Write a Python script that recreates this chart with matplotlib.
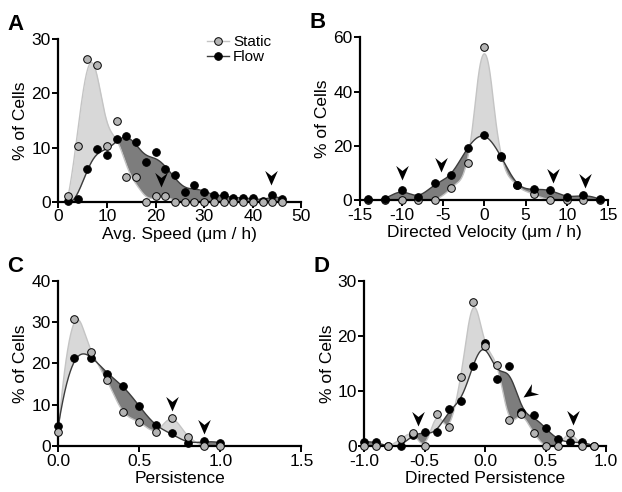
import numpy as np
import matplotlib.pyplot as plt
from matplotlib.path import Path
from matplotlib.markers import MarkerStyle
from matplotlib.transforms import Affine2D

plt.rcParams['font.family'] = ['Liberation Sans', 'DejaVu Sans']
plt.rcParams['axes.unicode_minus'] = False

# Panel A - average speed
speed_x = [2, 4, 6, 8, 10, 12, 14, 16, 18, 20, 22, 24, 26, 28, 30, 32, 34, 36, 38, 40, 42, 44, 46]
speed_static = [1.1, 10.3, 26.4, 25.2, 10.3, 14.9, 4.6, 4.6, 0, 1.1, 1.1, 0, 0, 0, 0, 0, 0, 0, 0, 0, 0, 0, 0]
speed_flow = [0.1, 0.5, 6.0, 9.8, 8.6, 11.5, 12.1, 11.0, 7.3, 9.1, 6.0, 4.9, 1.8, 3.0, 1.8, 1.2, 1.2,
              0.7, 0.7, 0.7, 0.1, 1.2, 0.5]
speed_arrows_x = [21.1, 43.8]
speed_arrows_y = [2.8, 3.1]

# Panel B - directed velocity
vel_x = [-14, -12, -10, -8, -6, -4, -2, 0, 2, 4, 6, 8, 10, 12, 14]
vel_static = [0, 0, 0, 0, 0, 4.6, 13.8, 56.6, 16.0, 5.5, 2.1, 0, 0, 0, 0]
vel_flow = [0.2, 0.2, 3.7, 1.0, 6.1, 9.1, 19.3, 24.1, 16.2, 5.5, 4.1, 3.7, 1.1, 1.8, 0.2]
vel_arrows_x = [-10, -5.2, 8.3, 12.2]
vel_arrows_y = [7.4, 10.5, 6.4, 4.3]

# Panel C - persistence
pers_x = [0.0, 0.1, 0.2, 0.3, 0.4, 0.5, 0.6, 0.7, 0.8, 0.9, 1.0]
pers_static = [3.5, 30.7, 22.8, 16.0, 8.2, 5.9, 3.5, 6.9, 2.3, 0, 0]
pers_flow = [4.8, 21.3, 21.3, 17.5, 14.5, 9.7, 5.0, 3.1, 0.8, 1.2, 0.8]
pers_arrows_x = [0.7, 0.9]
pers_arrows_y = [8.5, 2.8]

# Panel D - directed persistence
dpers_x = [-1.0, -0.9, -0.8, -0.7, -0.6, -0.5, -0.4, -0.3, -0.2, -0.1,
           0.0, 0.1, 0.2, 0.3, 0.4, 0.5, 0.6, 0.7, 0.8, 0.9]
dpers_static = [0, 0, 0, 1.2, 2.4, 0, 5.8, 3.5, 12.6, 26.2, 18.2, 14.8, 4.7, 5.8, 2.4, 0, 0, 2.4, 0, 0]
dpers_flow = [0.7, 0.7, 0, 0, 2.0, 2.5, 2.5, 6.8, 8.1, 14.5, 18.8, 12.2, 14.5, 6.2, 5.6, 3.2, 1.3,
              0.7, 0.7, 0]
dpers_arrows_x = [-0.553, 0.311, 0.724]
dpers_arrows_y = [3.6, 8.96, 3.9]
dpers_arrows_rot = [0, -56, 0]

LIGHT_FILL = '#d8d8d8'
DARK_FILL = '#7d7d7d'
STATIC_FACE = '#b4b4b4'


def smooth(x, y, grid, h, deg=2):
    # gaussian weighted local polynomial fit, like the smoothed curves in the figure
    x = np.asarray(x, float)
    y = np.asarray(y, float)
    out = []
    for g in grid:
        w = np.sqrt(np.exp(-0.5 * ((x - g) / h) ** 2))
        X = np.column_stack([(x - g) ** k for k in range(deg + 1)])
        beta = np.linalg.lstsq(X * w[:, None], y * w, rcond=None)[0]
        out.append(beta[0])
    return np.clip(out, 0, None)


# notched arrowhead, tip at the origin
arrow_path = Path([(0, 0), (0.5, 1.15), (0, 0.75), (-0.5, 1.15), (0, 0)],
                  [Path.MOVETO, Path.LINETO, Path.LINETO, Path.LINETO, Path.CLOSEPOLY])

fig = plt.figure(figsize=(6.22, 4.92), dpi=100)

# smoothing widths (in bin steps) for static / flow curves
panels = [
    ('A', [0.0937, 0.590, 0.391, 0.330], speed_x, speed_static, speed_flow, speed_arrows_x, speed_arrows_y,
     None, (0, 50), [0, 10, 20, 30, 40, 50], (0, 30), [0, 10, 20, 30], 'Avg. Speed (μm / h)', True,
     (1.0, 1.1)),
    ('B', [0.579, 0.5935, 0.399, 0.3307], vel_x, vel_static, vel_flow, vel_arrows_x, vel_arrows_y,
     None, (-15, 15), [-15, -10, -5, 0, 5, 10, 15], (0, 60), [0, 20, 40, 60], 'Directed Velocity (μm / h)', False,
     (0.62, 0.75)),
    ('C', [0.0937, 0.0935, 0.391, 0.3354], pers_x, pers_static, pers_flow, pers_arrows_x, pers_arrows_y,
     None, (0, 1.5), [0.0, 0.5, 1.0, 1.5], (0, 40), [0, 10, 20, 30, 40], 'Persistence', True,
     (0.65, 0.8)),
    ('D', [0.5857, 0.0935, 0.3886, 0.3354], dpers_x, dpers_static, dpers_flow, dpers_arrows_x, dpers_arrows_y,
     dpers_arrows_rot, (-1, 1), [-1.0, -0.5, 0.0, 0.5, 1.0], (0, 30), [0, 10, 20, 30], 'Directed Persistence', True,
     (0.68, 0.85)),
]

for letter, rect, x, ys, yf, ax_x, ax_y, rots, xlim, xt, ylim, yt, xlabel, static_top, bw in panels:
    ax = fig.add_axes(rect)
    step = x[1] - x[0]
    grid = np.linspace(x[0], x[-1], 500)
    cs = smooth(x, ys, grid, bw[0] * step)
    cf = smooth(x, yf, grid, bw[1] * step)

    ax.fill_between(grid, cf, cs, where=cs >= cf, interpolate=True, color=LIGHT_FILL, lw=0, zorder=1)
    ax.fill_between(grid, cf, cs, where=cf >= cs, interpolate=True, color=DARK_FILL, lw=0, zorder=1)
    ax.plot(grid, cs, color='#c4c4c4', lw=1, zorder=2)
    ax.plot(grid, cf, color='#3c3c3c', lw=1, zorder=2)

    zs = 4 if static_top else 3
    ax.plot(x, yf, 'o', ms=5.5, mfc='black', mec='black', mew=0.7, ls='none', zorder=7 - zs, clip_on=False)
    ax.plot(x, ys, 'o', ms=5.5, mfc=STATIC_FACE, mec='black', mew=0.7, ls='none', zorder=zs, clip_on=False)

    for i in range(len(ax_x)):
        rot = rots[i] if rots else 0
        m = MarkerStyle(arrow_path, transform=Affine2D().rotate_deg(rot))
        ax.plot(ax_x[i], ax_y[i], marker=m, ms=21, color='black', mew=0, ls='none', zorder=6)

    ax.set_xlim(xlim)
    ax.set_ylim(ylim)
    ax.set_xticks(xt)
    ax.set_yticks(yt)
    if isinstance(xt[1], float):
        ax.set_xticklabels(['%.1f' % v for v in xt])
    ax.spines['top'].set_visible(False)
    ax.spines['right'].set_visible(False)
    ax.spines['left'].set_linewidth(1.6)
    ax.spines['bottom'].set_linewidth(1.6)
    ax.tick_params(direction='out', length=4, width=1.4, labelsize=12.5, pad=1.5)
    ax.set_xlabel(xlabel, fontsize=12.5, labelpad=2)
    ax.set_ylabel('% of Cells', fontsize=12.5, labelpad=2)

    fig.text(rect[0] - 0.082, rect[1] + rect[3] + 0.008, letter, fontsize=16, fontweight='bold', va='bottom')

    if letter == 'A':
        hs = ax.plot([], [], 'o-', ms=5.5, mfc=STATIC_FACE, mec='black', mew=0.7, color='#c4c4c4', lw=1)[0]
        hf = ax.plot([], [], 'o-', ms=5.5, mfc='black', mec='black', mew=0.7, color='#3c3c3c', lw=1)[0]
        ax.legend([hs, hf], ['Static', 'Flow'], loc='upper right', bbox_to_anchor=(0.92, 1.09),
                  frameon=False, fontsize=11, handlelength=1.4, handletextpad=0.3, labelspacing=0.05,
                  borderpad=0.2)

fig.savefig('out.png', dpi=100)
